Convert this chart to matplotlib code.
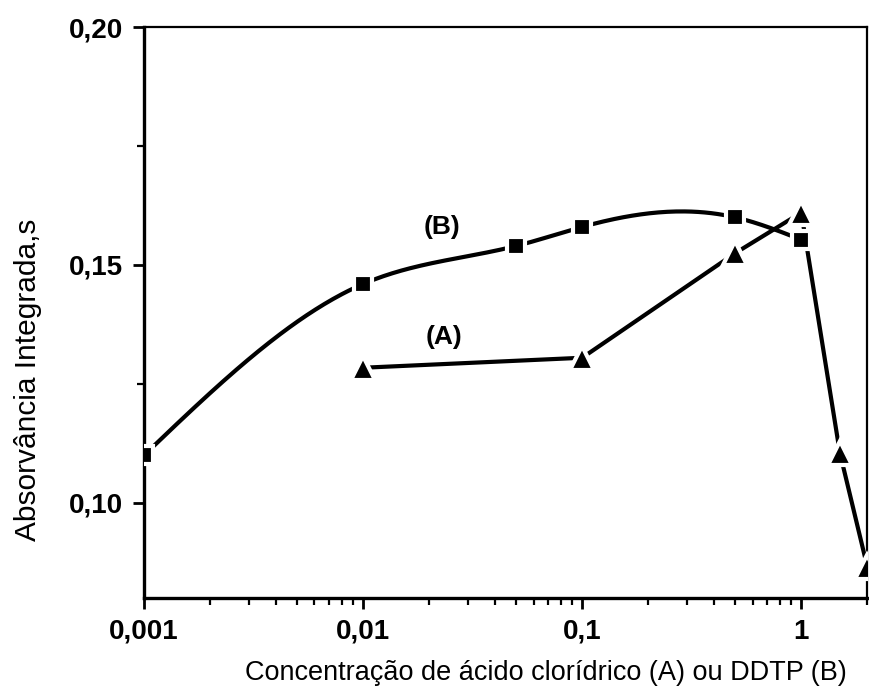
import numpy as np
import matplotlib.pyplot as plt
from matplotlib.ticker import FixedLocator, MultipleLocator, LogLocator, FuncFormatter

plt.rcParams['font.family'] = ['Liberation Sans', 'DejaVu Sans']

# (A) acido cloridrico
conc_a = [0.01, 0.1, 0.5, 1.0, 1.5, 2.0]
abs_a = [0.1284, 0.1305, 0.1525, 0.161, 0.1105, 0.0866]

# (B) DDTP
conc_b = [0.001, 0.01, 0.05, 0.1, 0.5, 1.0]
abs_b = [0.110, 0.146, 0.154, 0.158, 0.160, 0.1553]

x_ticks = [0.001, 0.01, 0.1, 1]
x_ticklabels = ['0,001', '0,01', '0,1', '1']
y_ticks = [0.10, 0.15, 0.20]


def natural_spline(x, y, n=300):
    # natural cubic spline through the points, used only to draw the smooth curve
    x = np.asarray(x, float)
    y = np.asarray(y, float)
    h = np.diff(x)
    m = len(x)
    A = np.zeros((m, m))
    r = np.zeros(m)
    A[0, 0] = A[-1, -1] = 1
    for i in range(1, m - 1):
        A[i, i - 1] = h[i - 1]
        A[i, i] = 2 * (h[i - 1] + h[i])
        A[i, i + 1] = h[i]
        r[i] = 6 * ((y[i + 1] - y[i]) / h[i] - (y[i] - y[i - 1]) / h[i - 1])
    M = np.linalg.solve(A, r)
    xs = np.linspace(x[0], x[-1], n)
    k = np.clip(np.searchsorted(x, xs) - 1, 0, m - 2)
    t0 = x[k + 1] - xs
    t1 = xs - x[k]
    hk = h[k]
    ys = (M[k] * t0 ** 3 + M[k + 1] * t1 ** 3) / (6 * hk) \
        + (y[k] / hk - M[k] * hk / 6) * t0 + (y[k + 1] / hk - M[k + 1] * hk / 6) * t1
    return xs, ys


fig = plt.figure(figsize=(8.69, 6.93), dpi=100)
ax = fig.add_axes([0.1657, 0.137, 0.8323, 0.824])

lx, ly = natural_spline(np.log10(conc_b), abs_b)
ax.plot(10 ** lx, ly, color='black', lw=3, zorder=2)
ax.plot(conc_b, abs_b, ls='none', marker='s', ms=13.5, mfc='black',
        mec='white', mew=3, zorder=3)

ax.plot(conc_a, abs_a, color='black', lw=3, zorder=2)
ax.plot(conc_a, abs_a, ls='none', marker='^', ms=17, mfc='black',
        mec='white', mew=3, zorder=4)

ax.text(0.0229, 0.158, '(B)', fontsize=19, fontweight='bold', ha='center', va='center')
ax.text(0.0235, 0.1349, '(A)', fontsize=19, fontweight='bold', ha='center', va='center')

ax.set_xscale('log')
ax.set_xlim(0.001, 2.0)
ax.set_ylim(0.08, 0.20)

ax.xaxis.set_major_locator(FixedLocator(x_ticks))
ax.set_xticklabels(x_ticklabels)
ax.xaxis.set_minor_locator(LogLocator(base=10, subs=np.arange(2, 10)))
ax.xaxis.set_minor_formatter(FuncFormatter(lambda v, p: ''))
ax.yaxis.set_major_locator(FixedLocator(y_ticks))
ax.yaxis.set_major_formatter(FuncFormatter(lambda v, p: f'{v:.2f}'.replace('.', ',')))
ax.yaxis.set_minor_locator(MultipleLocator(0.025))

ax.tick_params(which='major', direction='out', length=8, width=2,
               labelsize=20, pad=7)
ax.tick_params(which='minor', direction='out', length=5, width=1.6)
for lab in ax.get_xticklabels() + ax.get_yticklabels():
    lab.set_fontweight('bold')

for side in ['left', 'bottom']:
    ax.spines[side].set_linewidth(2.4)
for side in ['top', 'right']:
    ax.spines[side].set_linewidth(1.6)

ax.set_xlabel('Concentração de ácido clorídrico (A) ou DDTP (B)', fontsize=19.5)
ax.set_ylabel('Absorvância Integrada,s', fontsize=21.5)
ax.xaxis.set_label_coords(0.555, -0.108)
ax.yaxis.set_label_coords(-0.141, 0.383)

fig.savefig('out.png', dpi=100)
